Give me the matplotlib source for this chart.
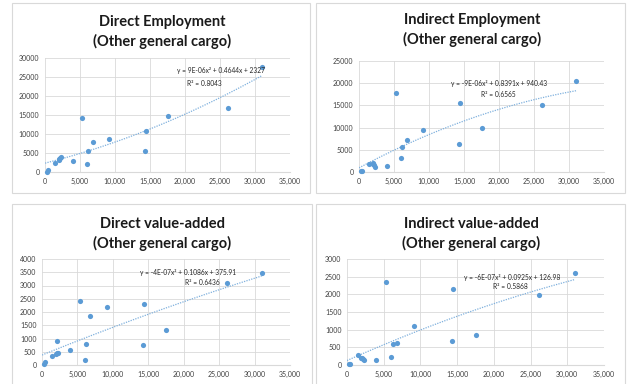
import matplotlib
matplotlib.use("Agg")
import matplotlib.pyplot as plt
import numpy as np
from matplotlib.patches import Rectangle
from matplotlib.ticker import FuncFormatter

W, H = 629, 384

# cargo (x) shared by all four charts
cargo = [330, 470, 1450, 1950, 2050, 2150, 2250, 4000, 5350, 6050, 6200,
         6800, 9150, 14250, 14450, 17550, 26150, 31000]

direct_emp = [100, 500, 2300, 3100, 3300, 3600, 3900, 2900, 14300, 2100, 5500,
              8000, 8700, 5500, 10700, 14700, 16900, 27700]
indirect_emp = [200, 300, 1700, 2100, 1900, 1500, 1200, 1400, 17900, 3100, 5600,
                7200, 9400, 6200, 15500, 9900, 15000, 20600]
direct_va = [25, 130, 340, 400, 905, 460, 470, 550, 2430, 190, 790,
             1840, 2200, 760, 2320, 1330, 3080, 3480]
indirect_va = [20, 40, 270, 210, 190, 170, 140, 150, 2340, 230, 600,
               630, 1100, 690, 2150, 850, 1990, 2610]

titles = ["Direct Employment\n(Other general cargo)",
          "Indirect Employment\n(Other general cargo)",
          "Direct value-added\n(Other general cargo)",
          "Indirect value-added\n(Other general cargo)"]

# trendline coefficients as printed on the charts (a, b, c)
coefs = [(9e-06, 0.4644, 2327), (-9e-06, 0.8391, 940.43),
         (-4e-07, 0.1086, 375.91), (-6e-07, 0.0925, 126.98)]
eq_labels = ["y = 9E-06x² + 0.4644x + 2327",
             "y = -9E-06x² + 0.8391x + 940.43",
             "y = -4E-07x² + 0.1086x + 375.91",
             "y = -6E-07x² + 0.0925x + 126.98"]
r2_labels = ["R² = 0.8043", "R² = 0.6565", "R² = 0.6436", "R² = 0.5868"]

y_max = [30000, 25000, 4000, 3000]
y_step = [5000, 5000, 500, 500]

# layout in pixels: box (l, t, r, b), plot area (l, t, r, b), title centre, eq pos, r2 pos
boxes = [(12, 3, 310, 193), (316, 3, 625, 193), (12, 204, 312, 400), (316, 204, 625, 400)]
areas = [(45, 58, 290, 172), (359, 61, 604, 172), (42, 259, 290, 365), (347, 259, 604, 365)]
title_pos = [(162, 32), (472, 30), (162, 234), (471, 234)]
eq_pos = [(0.72, 0.894), (0.571, 0.80), (0.589, 0.877), (0.642, 0.83)]
r2_pos = [(0.649, 0.772), (0.567, 0.694), (0.645, 0.783), (0.634, 0.736)]

blue = "#5b9bd5"
grid = "#d9d9d9"
plt.rcParams['font.family'] = ['Lato', 'DejaVu Sans']

fig = plt.figure(figsize=(W / 100, H / 100), dpi=100)
fig.patch.set_facecolor("white")

series = [direct_emp, indirect_emp, direct_va, indirect_va]

for i in range(4):
    bl, bt, br, bb = boxes[i]
    fig.patches.append(Rectangle((bl / W, 1 - bb / H), (br - bl) / W, (bb - bt) / H,
                                 transform=fig.transFigure, fill=False,
                                 edgecolor=grid, linewidth=0.8))
    l, t, r, b = areas[i]
    ax = fig.add_axes([l / W, 1 - b / H, (r - l) / W, (b - t) / H])
    ax.set_xlim(0, 35000)
    ax.set_ylim(0, y_max[i])
    ax.set_xticks(np.arange(0, 35001, 5000))
    ax.set_yticks(np.arange(0, y_max[i] + 1, y_step[i]))
    ax.xaxis.set_major_formatter(FuncFormatter(lambda v, p: f"{int(v):,}"))
    ax.yaxis.set_major_formatter(FuncFormatter(lambda v, p: f"{int(v)}"))
    ax.tick_params(length=0, labelsize=5, colors="#404040", pad=4)
    ax.grid(True, color=grid, linewidth=0.6)
    ax.set_axisbelow(True)
    for s in ["top", "right", "left"]:
        ax.spines[s].set_visible(False)
    ax.spines["bottom"].set_color(grid)
    ax.spines["bottom"].set_linewidth(0.8)

    a, bcoef, c = coefs[i]
    xs = np.linspace(0, max(cargo), 200)
    ax.plot(xs, a * xs ** 2 + bcoef * xs + c, linestyle=(0, (1, 1)),
            color="#7fb0dd", linewidth=0.9, zorder=2)
    ax.scatter(cargo, series[i], s=14, color=blue, zorder=3, linewidths=0, clip_on=False)

    ax.text(eq_pos[i][0], eq_pos[i][1], eq_labels[i], transform=ax.transAxes,
            ha="center", va="center", fontsize=4.8, color="#262626")
    ax.text(r2_pos[i][0], r2_pos[i][1], r2_labels[i], transform=ax.transAxes,
            ha="center", va="center", fontsize=4.8, color="#262626")

    tx, ty = title_pos[i]
    fig.text(tx / W, 1 - ty / H, titles[i], ha="center", va="center",
             fontsize=10.5, fontweight="bold", color="#1a1a1a", linespacing=1.35)

fig.savefig("out.png", dpi=100)
